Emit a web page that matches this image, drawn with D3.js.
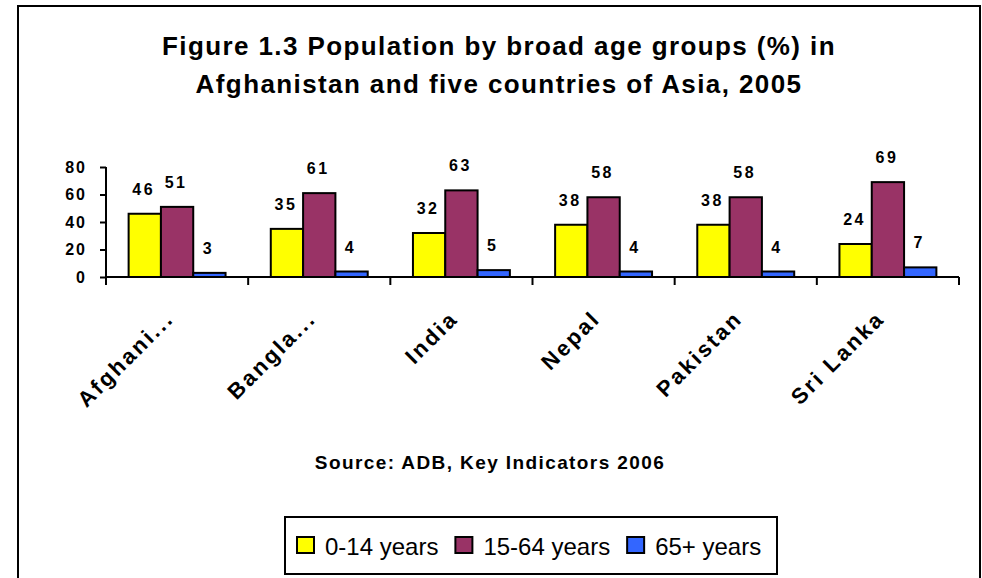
<!DOCTYPE html>
<html>
<head>
<meta charset="utf-8">
<script src="https://cdn.jsdelivr.net/npm/d3@7"></script>
<style>
  body { margin: 0; background: #fff; }
  svg { display: block; font-family: "Liberation Sans", Arial, sans-serif; }
</style>
</head>
<body>
<div id="chart"></div>
<script>
let W = 982, H = 578;

// data
let countries = ["Afghani...", "Bangla...", "India", "Nepal", "Pakistan", "Sri Lanka"];
let ageGroups = ["0-14 years", "15-64 years", "65+ years"];
let age0to14 = [46, 35, 32, 38, 38, 24];
let age15to64 = [51, 61, 63, 58, 58, 69];
let age65plus = [3, 4, 5, 4, 4, 7];
let yTicks = [0, 20, 40, 60, 80];
let colors = ["#FFFF00", "#993366", "#3366FF"];

let series = [age0to14, age15to64, age65plus];
let rows = countries.map(function(c, i) {
  return { name: c, values: ageGroups.map(function(g, j) { return { group: g, value: series[j][i] }; }) };
});

let svg = d3.select("#chart").append("svg")
  .attr("width", W)
  .attr("height", H);

// outer frame
svg.append("rect")
  .attr("x", 18).attr("y", 6)
  .attr("width", 962).attr("height", 620)
  .attr("fill", "none")
  .attr("stroke", "#000")
  .attr("stroke-width", 2);

// title
let title = svg.append("text")
  .attr("text-anchor", "middle")
  .attr("font-weight", "bold")
  .attr("font-size", 26)
  .attr("letter-spacing", 1.4);
title.append("tspan").attr("x", 499).attr("y", 55).text("Figure 1.3 Population by broad age groups (%) in");
title.append("tspan").attr("x", 499).attr("y", 93).text("Afghanistan and five countries of Asia, 2005");

// scales
let x0 = d3.scaleBand().domain(countries).range([106, 959]).padding(0);
let x1 = d3.scaleBand().domain(ageGroups).range([0, x0.bandwidth()]).paddingInner(0).paddingOuter(0.7);
let y = d3.scaleLinear().domain([0, 80]).range([277, 167]);
let color = d3.scaleOrdinal().domain(ageGroups).range(colors);

// y axis
let yAxis = svg.append("g")
  .attr("transform", "translate(106,0)")
  .call(d3.axisLeft(y).tickValues(yTicks).tickSize(6).tickPadding(13));
yAxis.select(".domain").attr("stroke", "#000").attr("stroke-width", 2)
  .attr("d", "M0," + y(80) + "V285");
yAxis.selectAll(".tick line").attr("stroke", "#000").attr("stroke-width", 2);
yAxis.selectAll(".tick text")
  .attr("font-family", "Liberation Sans, Arial, sans-serif")
  .attr("font-size", 16)
  .attr("font-weight", "bold")
  .attr("letter-spacing", 2)
  .attr("fill", "#000");

// bars
let groups = svg.selectAll(".grp")
  .data(rows)
  .enter().append("g")
  .attr("class", "grp")
  .attr("transform", function(d) { return "translate(" + x0(d.name) + ",0)"; });

groups.selectAll("rect")
  .data(function(d) { return d.values; })
  .enter().append("rect")
  .attr("x", function(d) { return x1(d.group); })
  .attr("y", function(d) { return y(d.value); })
  .attr("width", x1.bandwidth())
  .attr("height", function(d) { return y(0) - y(d.value); })
  .attr("fill", function(d) { return color(d.group); })
  .attr("stroke", "#000")
  .attr("stroke-width", 2);

groups.selectAll(".val")
  .data(function(d) { return d.values; })
  .enter().append("text")
  .attr("class", "val")
  .attr("x", function(d) { return x1(d.group) + x1.bandwidth() / 2 - 1; })
  .attr("y", function(d) { return y(d.value) - 19; })
  .attr("text-anchor", "middle")
  .attr("font-size", 16)
  .attr("font-weight", "bold")
  .attr("letter-spacing", 2.5)
  .text(function(d) { return d.value; });

// x axis
let xAxis = svg.append("g")
  .attr("transform", "translate(0," + y(0) + ")");
xAxis.append("line")
  .attr("x1", 106).attr("x2", 959)
  .attr("stroke", "#000").attr("stroke-width", 2);
xAxis.selectAll(".xt")
  .data(countries.concat(["end"]))
  .enter().append("line")
  .attr("class", "xt")
  .attr("x1", function(d, i) { return i < countries.length ? x0(d) : x0.range()[1]; })
  .attr("x2", function(d, i) { return i < countries.length ? x0(d) : x0.range()[1]; })
  .attr("y1", 0).attr("y2", 8)
  .attr("stroke", "#000").attr("stroke-width", 2);

svg.selectAll(".xl")
  .data(countries)
  .enter().append("text")
  .attr("class", "xl")
  .attr("text-anchor", "end")
  .attr("font-size", 22)
  .attr("font-weight", "bold")
  .attr("letter-spacing", 2.5)
  .attr("transform", function(d) {
    return "translate(" + (x0(d) + x0.bandwidth() / 2 - 2) + ",320) rotate(-45)";
  })
  .text(function(d) { return d; });

// source
svg.append("text")
  .attr("x", 490).attr("y", 469)
  .attr("text-anchor", "middle")
  .attr("font-size", 19)
  .attr("font-weight", "bold")
  .attr("letter-spacing", 1.4)
  .text("Source: ADB, Key Indicators 2006");

// legend
let legend = svg.append("g");
legend.append("rect")
  .attr("x", 285).attr("y", 517)
  .attr("width", 492).attr("height", 57)
  .attr("fill", "#fff")
  .attr("stroke", "#000")
  .attr("stroke-width", 2);

let lx = 297;
ageGroups.forEach(function(g) {
  legend.append("rect")
    .attr("x", lx).attr("y", 537)
    .attr("width", 17).attr("height", 16)
    .attr("fill", color(g))
    .attr("stroke", "#000")
    .attr("stroke-width", 2);
  let t = legend.append("text")
    .attr("x", lx + 28).attr("y", 555)
    .attr("font-size", 24)
    .text(g);
  lx = lx + 28 + t.node().getComputedTextLength() + 17;
});
</script>
</body>
</html>
